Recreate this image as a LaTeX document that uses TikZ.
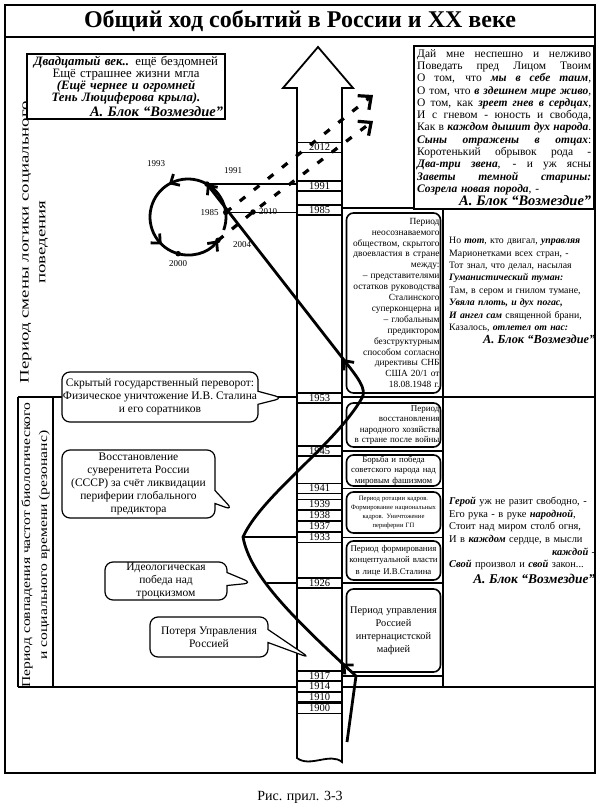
\documentclass[tikz,border=0pt]{standalone}
\usepackage{fontspec}
\setmainfont{Liberation Serif}
\usepackage{xcolor}
\usepackage{graphicx}
\usetikzlibrary{arrows.meta,positioning,calc,shapes.callouts,decorations.markings}

\newcommand{\bi}[1]{\textbf{\textit{#1}}}
\newcommand{\fl}[1]{\leavevmode\hbox to 174pt{\spaceskip=0.25em plus 1fil\relax #1}}
\newcommand{\fsz}[2]{\fontsize{#1}{#2}\selectfont}

\begin{document}
\begin{tikzpicture}[x=1pt,y=-1pt,
    yearbox/.style={draw, line width=1.2pt, fill=white, minimum width=45pt,
        minimum height=10pt, inner sep=0pt, font=\fsz{10.5}{10}},
    periodbox/.style={draw, line width=1.6pt, rounded corners=7pt, fill=white,
        inner sep=1pt, minimum width=94pt, text width=92pt},
    talk/.style={rectangle callout, draw, line width=1.2pt, rounded corners=8pt,
        fill=white, align=center, inner sep=1pt, callout pointer width=13pt,
        font=\fsz{11.5}{13}},
    poembox/.style={draw, line width=2pt, fill=white},
    mainpath/.style={line width=2.8pt, line join=round},
    future/.style={line width=3.2pt, dash pattern=on 7pt off 11pt},
    dot/.style={circle, fill, inner sep=0pt, minimum size=5.5pt},
    yrlabel/.style={font=\fsz{9}{9}, inner sep=1pt},
    barb/.tip={Straight Barb[length=7pt, width=13pt]},
    grid/.style={line width=1.2pt}]

\useasboundingbox (0,0) rectangle (600,811);

% frame and title
\draw[line width=1.6pt] (5,5) rectangle (595,773);
\draw[line width=1.6pt] (5,37) -- (595,37);
\node[font=\bfseries\fsz{24}{26}] (title) at (300,21) {Общий ход событий в России и XX веке};
\node[font=\fsz{14}{16}] (caption) at (300,797) {Рис. прил. 3-3};

% period lines
\coordinate (sep) at (443,208);
\draw[grid] (342,208) -- (595,208);
\draw[grid] (18,397) -- (595,397);
\draw[grid] (18,687) -- (595,687);
\draw[grid] (18,397) -- (18,687);
\draw[grid] (53,397) -- (53,687);
\draw[grid] (sep) -- (443,687);

\node[rotate=90, align=center, font=\fsz{13}{17}] (logic) at (34,242)
    {\scalebox{1.45}[1]{Период смены логики социального}\\\scalebox{1.45}[1]{поведения}};
\node[rotate=90, align=center, font=\fsz{12}{17}] (reson) at (35.5,545)
    {\scalebox{1.3}[1]{Период совпадения частот биологического}\\\scalebox{1.3}[1]{и социального времени (резонанс)}};

% time column
\draw[line width=1.8pt, fill=white] (297,758) -- (297,88) -- (283,88) -- (318,47)
    -- (353,88) -- (342,88) -- (342,762) .. controls (330,752) and (310,768) .. cycle;
\foreach \yr/\yy in {2012/147.5, 1991/186, 1985/210, 1953/398, 1945/451, 1941/488.5,
    1939/504.5, 1938/515.5, 1937/526.5, 1933/537.5, 1926/583, 1917/676,
    1914/686.5, 1910/697, 1900/708.5}
  \node[yearbox] (y\yr) at (319.5,\yy) {\yr};
\foreach \yr in {1945,1941,1933,1926,1917}
  \draw[grid] (y\yr.east) -- (y\yr.east -| sep);

% periods
\node[periodbox, align=right, minimum height=180pt, font=\fsz{9.4}{10.9}] (hidden) at (393.5,303)
    {Период\\неосознаваемого\\обществом, скрытого\\двоевластия в стране\\между:\\– представителями\\остатков руководства\\Сталинского\\суперконцерна и\\– глобальным\\предиктором\\безструктурным\\способом согласно\\директивы СНБ\\США 20/1 от\\18.08.1948 г.};
\node[periodbox, align=right, minimum height=44pt, font=\fsz{9}{10.2}] (restore) at (393.5,425)
    {Период\\восстановления\\народного хозяйства\\в стране после войны};
\node[periodbox, align=center, minimum height=31pt, font=\fsz{8.8}{10.3}] (war) at (393.5,470.5)
    {Борьба и победа\\советского народа над\\мировым фашизмом};
\node[periodbox, align=center, minimum height=41pt, font=\fsz{6.6}{8.8}] (rotation) at (393.5,512.5)
    {Период ротации кадров.\\Формирование национальных\\кадров. Уничтожение\\периферии ГП};
\node[periodbox, align=center, minimum height=39pt, font=\fsz{8.8}{11.5}] (concept) at (393.5,560.5)
    {Период формирования\\концептуальной власти\\в лице И.В.Сталина};
\node[periodbox, align=center, minimum height=83pt, font=\fsz{10.3}{13}] (mafia) at (393.5,630.5)
    {Период управления\\Россией\\интернацистской\\мафией};

% verses
\node[poembox, text width=194pt, minimum height=63pt, inner sep=2pt, align=center, font=\fsz{12.8}{12}] (verse20) at (126,86.5)
    {\bi{Двадцатый век..} ещё бездомней\\Ещё страшнее жизни мгла\\\bi{(Ещё чернее и огромней}\\\bi{Тень Люциферова крыла).}\\[1pt]\hfill{\fsz{14.5}{14}\bi{А. Блок “Возмездие”}}};
\node[poembox, line width=2.4pt, text width=174pt, inner sep=3pt, minimum height=163pt,
    align=left, font=\fsz{11.5}{12.3}, anchor=north west] (verseR) at (413,45)
    {\fl{Дай мне неспешно и нелживо}\\
     \fl{Поведать пред Лицом Твоим}\\
     \fl{О том, что \bi{мы в себе таим},}\\
     \fl{О том, что \bi{в здешнем мире живо},}\\
     \fl{О том, как \bi{зреет гнев в сердцах},}\\
     \fl{И с гневом - юность и свобода,}\\
     \fl{Как в \bi{каждом дышит дух народа}.}\\
     \fl{\bi{Сыны отражены в отцах}:}\\
     \fl{Коротенький обрывок рода -}\\
     \fl{\bi{Два-три звена}, - и уж ясны}\\
     \fl{\bi{Заветы темной старины:}}\\
     \bi{Созрела новая порода}, -\\
     \hfill{\fsz{14.5}{14}\bi{А. Блок “Возмездие”}}};
\node[text width=146pt, inner sep=0pt, align=left, font=\fsz{9.8}{12.4}, anchor=north west] (verseM) at (449,237)
    {Но \bi{тот}, кто двигал, \bi{управляя}\\
     Марионетками всех стран, -\\
     Тот знал, что делал, насылая\\
     \bi{Гуманистический туман:}\\
     Там, в сером и гнилом тумане,\\
     \bi{Увяла плоть, и дух погас,}\\
     \bi{И ангел сам} священной брани,\\
     Казалось, \bi{отлетел от нас:}\\[1pt]
     \hfill{\fsz{12.3}{14}\bi{А. Блок “Возмездие”}}};
\node[text width=146pt, inner sep=0pt, align=left, font=\fsz{10.4}{12.6}, anchor=north west] (verseL) at (449,497)
    {\bi{Герой} уж не разит свободно, -\\
     Его рука - в руке \bi{народной},\\
     Стоит над миром столб огня,\\
     И в \bi{каждом} сердце, в мысли\\
     \hfill\bi{каждой} -\\
     \bi{Свой} произвол и \bi{свой} закон...\\[3pt]
     \hfill{\fsz{13.4}{14}\bi{А. Блок “Возмездие”}}};

% events
\coordinate (tip1) at (283,398);
\coordinate (tip2) at (233,510);
\coordinate (tip3) at (252,583);
\coordinate (tip4) at (310,658);
\node[talk, callout absolute pointer={(tip1)}, minimum width=196pt, minimum height=50pt] (coup) at (160,397)
    {Скрытый государственный переворот:\\Физическое уничтожение И.В. Сталина\\и его соратников};
\node[talk, callout absolute pointer={(tip2)}, minimum width=153pt, minimum height=68pt] (sovereign) at (138.5,484)
    {Восстановление\\суверенитета России\\(СССР) за счёт ликвидации\\периферии глобального\\предиктора};
\node[talk, callout absolute pointer={(tip3)}, minimum width=122pt, minimum height=38pt] (ideology) at (166,581)
    {Идеологическая\\победа над\\троцкизмом};
\node[talk, callout absolute pointer={(tip4)}, minimum width=118pt, minimum height=40pt] (loss) at (209,637)
    {Потеря Управления\\Россией};

% cycle after 1985
\coordinate (cc) at (188,217);
\coordinate (cst) at ($(cc)+(20:38)$);
\coordinate (p1985) at ($(cc)+(-7:38)$);
\coordinate (p1991) at ($(cc)+(-60:38)$);
\coordinate (p1993) at ($(cc)+(-125:38)$);
\coordinate (p2000) at ($(cc)+(105:38)$);
\coordinate (p2004) at ($(cc)+(38:38)$);
\coordinate (p2010) at (253,212);
\coordinate (tipA) at (373,95);
\coordinate (tipB) at (373,121);

\draw[grid] (p1991) -- (p1991 -| y1991.west);
\draw[grid] (p1985) -- (p1985 -| y1985.west);

\draw[mainpath, -barb, postaction={decorate},
    decoration={markings, mark=at position 0.41 with {\arrow{barb}},
        mark=at position 0.72 with {\arrow{barb}}}]
    (cst) arc[start angle=20, end angle=-322, radius=38];

\draw[future, -{Straight Barb[length=10pt, width=18pt]}] (p1985) -- (tipA);
\draw[future, -{Straight Barb[length=10pt, width=18pt]}] (p2004) -- (p2010) -- (tipB);

% main course
\coordinate (start) at (347,742);
\coordinate (knee) at (356,676);
\coordinate (apex) at (243,537);
\coordinate (turn) at (362,398);
\coordinate (bend) at (344,360);
\coordinate (c1926) at (267,583);
\draw[grid] (apex) -- (apex -| y1933.west);
\draw[grid] (c1926) -- (y1926.west);
\draw[mainpath, -barb, postaction={decorate},
    decoration={markings, mark=at position 85pt with {\arrow{barb}},
        mark=at position -222pt with {\arrow{barb}}}]
    (start) -- (knee) .. controls (290,615) and (250,575) .. (apex)
    .. controls (262,495) and (335,445) .. (turn)
    .. controls (367,389) and (358,378) .. (bend) -- (p1991);

\foreach \p in {1985,1991,2000,2004,2010}
  \node[dot] (d\p) at (p\p) {};
\node[yrlabel, above left=18pt and 0pt of p1993] (l1993) {1993};
\node[yrlabel, above right=9pt and 16pt of p1991] (l1991) {1991};
\node[yrlabel, left=6pt of p1985] (l1985) {1985};
\node[yrlabel, right=5pt of p2010] (l2010) {2010};
\node[yrlabel, below right=0pt and 14pt of p2004] (l2004) {2004};
\node[yrlabel, below=6pt of p2000] (l2000) {2000};
\end{tikzpicture}
\end{document}
